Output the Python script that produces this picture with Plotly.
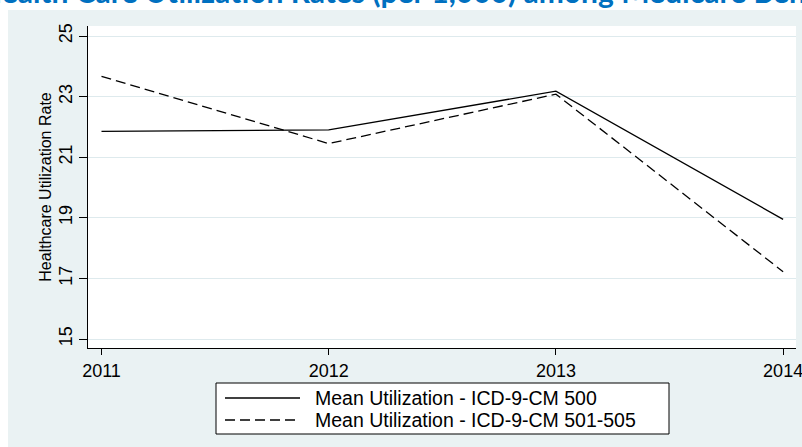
import plotly.graph_objects as go

years = [2011, 2012, 2013, 2014]
util_500 = [21.85, 21.9, 23.18, 18.95]
util_501_505 = [23.67, 21.45, 23.08, 17.22]
series_names = ["Mean Utilization - ICD-9-CM 500", "Mean Utilization - ICD-9-CM 501-505"]
series_dash = ["solid", "10px,5px"]
y_ticks = [15, 17, 19, 21, 23, 25]
x_ticks = [2011, 2012, 2013, 2014]
title_text = "Health Care Utilization Rates (per 1,000) among Medicare Beneficiaries"

FONT = "Liberation Sans, Arial, sans-serif"
PANEL = "rgb(234,242,243)"

W, H = 802, 447
L, R, T, B = 88, 6, 26, 99
pw, ph = W - L - R, H - T - B

def px_x(p):
    return (p - L) / pw

def px_y(p):
    return 1 - (p - T) / ph

fig = go.Figure()
for name, vals, dash in zip(series_names, [util_500, util_501_505], series_dash):
    fig.add_trace(go.Scatter(x=years, y=vals, mode="lines", name=name, showlegend=False,
                             line=dict(color="black", width=1.3, dash=dash)))

# manual legend (box, line samples, labels)
leg_x0, leg_x1, leg_y0, leg_y1 = 216, 669, 383, 434
row_y = [398, 420]
shapes = [
    dict(type="rect", xref="paper", yref="paper", layer="below",
         x0=px_x(0), x1=px_x(W), y0=px_y(0), y1=px_y(10),
         fillcolor="white", line=dict(width=0)),
    dict(type="rect", xref="paper", yref="paper", layer="below",
         x0=px_x(0), x1=px_x(8), y0=px_y(0), y1=px_y(H),
         fillcolor="white", line=dict(width=0)),
    dict(type="rect", xref="paper", yref="paper", layer="above",
         x0=px_x(leg_x0), x1=px_x(leg_x1), y0=px_y(leg_y1), y1=px_y(leg_y0),
         fillcolor="white", line=dict(color="black", width=1)),
]
annotations = [
    dict(text=title_text, xref="paper", yref="paper", x=px_x(-23), y=px_y(-9),
         xanchor="left", yanchor="middle", showarrow=False,
         font=dict(family="Lato, Open Sans, sans-serif", size=30, color="rgb(0,112,192)", weight="bold")),
]
for name, dash, ry in zip(series_names, series_dash, row_y):
    shapes.append(dict(type="line", xref="paper", yref="paper", layer="above",
                       x0=px_x(225), x1=px_x(300), y0=px_y(ry), y1=px_y(ry),
                       line=dict(color="black", width=1.3, dash=dash)))
    annotations.append(dict(text=name, xref="paper", yref="paper", x=px_x(313), y=px_y(ry),
                            xanchor="left", yanchor="middle", showarrow=False,
                            font=dict(family=FONT, size=19.5, color="black")))

fig.update_layout(
    width=W, height=H,
    margin=dict(l=L, r=R, t=T, b=B, pad=0),
    paper_bgcolor=PANEL,
    plot_bgcolor="white",
    font=dict(family=FONT, color="black"),
    showlegend=False,
    xaxis=dict(
        range=[2010.9406, 2014.0567], tickvals=x_ticks, ticktext=[str(v) for v in x_ticks],
        showgrid=False, zeroline=False, showline=True, linecolor="black", linewidth=1,
        ticks="outside", ticklen=6, tickcolor="black", tickwidth=1,
        tickfont=dict(family=FONT, size=18, color="black"),
        automargin=False, ticklabeloverflow="allow",
    ),
    yaxis=dict(
        range=[14.703, 25.33], tickvals=y_ticks, ticktext=[str(v) for v in y_ticks],
        showgrid=True, gridcolor="rgb(222,234,237)", gridwidth=1,
        zeroline=False, showline=True, linecolor="black", linewidth=1,
        ticks="outside", ticklen=8, tickcolor="black", tickwidth=1, tickangle=-90,
        tickfont=dict(family=FONT, size=18, color="black"),
        automargin=False, ticklabeloverflow="allow",
        title=dict(text="Healthcare Utilization Rate", font=dict(family=FONT, size=16, color="black"), standoff=0),
    ),
    shapes=shapes,
    annotations=annotations,
)

fig.write_html("out.html", config={"displayModeBar": False},
               post_script="document.body.style.margin='0';document.body.style.overflow='hidden';")
